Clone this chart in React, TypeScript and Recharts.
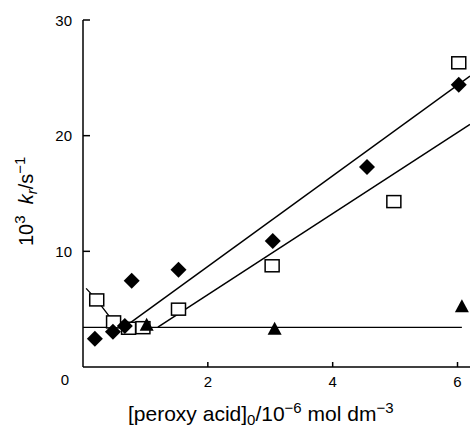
import React from 'react';
import { ComposedChart, XAxis, YAxis, Scatter, Line, Label } from 'recharts';

// Filled diamonds
const diamondX = [0.19, 0.48, 0.67, 0.78, 1.53, 3.04, 4.55, 6.02];
const diamondY = [2.45, 3.05, 3.55, 7.45, 8.4, 10.9, 17.3, 24.4];
// Open squares
const squareX = [0.22, 0.49, 0.73, 0.96, 1.53, 3.03, 4.98, 6.02];
const squareY = [5.8, 3.9, 3.35, 3.4, 5.0, 8.75, 14.3, 26.3];
// Filled triangles
const triangleX = [1.02, 3.07, 6.07];
const triangleY = [3.65, 3.3, 5.25];
// Fitted lines
const upperFitX = [0.7, 6.2];
const upperFitY = [3.6, 25.15];
const lowerFitX = [1.2, 6.2];
const lowerFitY = [3.45, 20.97];
const baseFitX = [0, 6.07];
const baseFitY = [3.43, 3.43];
const decayFitX = [0.05, 0.22, 0.49, 0.68];
const decayFitY = [6.8, 5.8, 3.9, 3.43];

const xTicks = [2, 4, 6];
const yTicks = [0, 10, 20, 30];

const zip = (xs: number[], ys: number[]) => xs.map((x, i) => ({ x, y: ys[i] }));

const diamonds = zip(diamondX, diamondY);
const squares = zip(squareX, squareY);
const triangles = zip(triangleX, triangleY);
const upperFit = zip(upperFitX, upperFitY);
const lowerFit = zip(lowerFitX, lowerFitY);
const baseFit = zip(baseFitX, baseFitY);
const decayFit = zip(decayFitX, decayFitY);

const FONT = 'Liberation Sans, Arial, Helvetica, sans-serif';

const DiamondShape = (p: any) => {
  const { cx, cy } = p;
  return <path d={`M${cx},${cy - 8} L${cx + 8},${cy} L${cx},${cy + 8} L${cx - 8},${cy} Z`} fill="#000" />;
};
const SquareShape = (p: any) => {
  const { cx, cy } = p;
  return <rect x={cx - 7} y={cy - 6} width={14} height={12} fill="#fff" stroke="#000" strokeWidth={1.5} />;
};
const TriangleShape = (p: any) => {
  const { cx, cy } = p;
  return <path d={`M${cx},${cy - 7} L${cx + 7},${cy + 6} L${cx - 7},${cy + 6} Z`} fill="#000" />;
};

const XTick = (p: any) => {
  const { x, y, payload } = p;
  return (
    <g>
      <line x1={x} y1={y} x2={x} y2={y - 5} stroke="#000" strokeWidth={1.5} />
      <text x={x} y={y + 14} textAnchor="middle" dominantBaseline="central" fontFamily={FONT} fontSize={15} fill="#000">
        {payload.value}
      </text>
    </g>
  );
};

const YTick = (p: any) => {
  const { x, y, payload } = p;
  if (payload.value === 0) {
    return (
      <text x={x - 18} y={y + 12} textAnchor="middle" dominantBaseline="central" fontFamily={FONT} fontSize={15} fill="#000">
        {payload.value}
      </text>
    );
  }
  return (
    <g>
      <line x1={x} y1={y} x2={x + 7} y2={y} stroke="#000" strokeWidth={1.5} />
      <text x={x - 11} y={y} textAnchor="end" dominantBaseline="central" fontFamily={FONT} fontSize={15} fill="#000">
        {payload.value}
      </text>
    </g>
  );
};

const XLabel = () => (
  <text x={128} y={421} fontFamily={FONT} fontSize={21} fill="#000">
    [peroxy acid]
    <tspan fontSize={15} dy={4}>0</tspan>
    <tspan dy={-4}>/10</tspan>
    <tspan fontSize={15} dy={-8}>−6</tspan>
    <tspan dy={8}> mol dm</tspan>
    <tspan fontSize={15} dy={-8}>−3</tspan>
  </text>
);

const YLabel = () => (
  <text x={33} y={246} transform="rotate(-90, 33, 246)" fontFamily={FONT} fontSize={20} fill="#000">
    10
    <tspan fontSize={15} dy={-8}>3</tspan>
    <tspan dy={8}>{'\u00a0\u00a0'}</tspan>
    <tspan fontStyle="italic">k</tspan>
    <tspan fontSize={15} fontStyle="italic" dy={4}>r</tspan>
    <tspan dy={-4}>/s</tspan>
    <tspan fontSize={15} dy={-8}>−1</tspan>
  </text>
);

export default function App() {
  return (
    <div style={{ position: 'absolute', left: 0, top: 0, background: '#fff' }}>
      <ComposedChart width={470} height={428} margin={{ top: 20, right: 0, bottom: 0, left: 0 }}>
        <XAxis
          type="number"
          dataKey="x"
          domain={[0, 6.2]}
          ticks={xTicks}
          height={61}
          tickSize={0}
          tickMargin={0}
          tickLine={false}
          axisLine={{ stroke: '#000', strokeWidth: 1.5 }}
          tick={<XTick />}
          interval={0}
          allowDataOverflow
        >
          <Label content={<XLabel />} />
        </XAxis>
        <YAxis
          type="number"
          dataKey="y"
          domain={[0, 30]}
          ticks={yTicks}
          width={83}
          tickSize={0}
          tickMargin={0}
          tickLine={false}
          axisLine={{ stroke: '#000', strokeWidth: 1.5 }}
          tick={<YTick />}
          interval={0}
          allowDataOverflow
        >
          <Label content={<YLabel />} />
        </YAxis>
        <Line data={baseFit} dataKey="y" type="linear" stroke="#000" strokeWidth={1.3} dot={false} activeDot={false} isAnimationActive={false} />
        <Line data={decayFit} dataKey="y" type="linear" stroke="#000" strokeWidth={1.3} dot={false} activeDot={false} isAnimationActive={false} />
        <Line data={upperFit} dataKey="y" type="linear" stroke="#000" strokeWidth={1.5} dot={false} activeDot={false} isAnimationActive={false} />
        <Line data={lowerFit} dataKey="y" type="linear" stroke="#000" strokeWidth={1.5} dot={false} activeDot={false} isAnimationActive={false} />
        <Scatter data={squares} dataKey="y" shape={<SquareShape />} isAnimationActive={false} />
        <Scatter data={diamonds} dataKey="y" shape={<DiamondShape />} isAnimationActive={false} />
        <Scatter data={triangles} dataKey="y" shape={<TriangleShape />} isAnimationActive={false} />
      </ComposedChart>
    </div>
  );
}
